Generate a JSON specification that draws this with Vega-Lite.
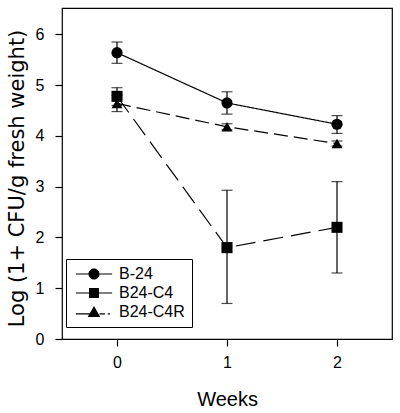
{
  "$schema": "https://vega.github.io/schema/vega-lite/v6.json",
  "width": 330,
  "height": 331,
  "autosize": "none",
  "padding": {"left": 62, "top": 8, "right": 8, "bottom": 74},
  "background": "white",
  "config": {
    "view": {"stroke": "black", "strokeWidth": 1.2},
    "font": "Liberation Sans",
    "axis": {
      "domainColor": "black", "tickColor": "black", "labelColor": "black", "titleColor": "black",
      "grid": false, "tickSize": 7, "labelFontSize": 16, "labelFont": "Liberation Sans",
      "titleFont": "Liberation Sans", "titleFontWeight": "normal", "domainWidth": 1.2, "tickWidth": 1.2
    }
  },
  "data": {
    "values": [
      {"week": 0, "series": "B-24", "mean": 5.64, "lo": 5.43, "hi": 5.85},
      {"week": 1, "series": "B-24", "mean": 4.65, "lo": 4.43, "hi": 4.87},
      {"week": 2, "series": "B-24", "mean": 4.23, "lo": 4.05, "hi": 4.40},
      {"week": 0, "series": "B24-C4", "mean": 4.78, "lo": 4.60, "hi": 4.95},
      {"week": 1, "series": "B24-C4", "mean": 1.80, "lo": 0.70, "hi": 2.93},
      {"week": 2, "series": "B24-C4", "mean": 2.20, "lo": 1.30, "hi": 3.10},
      {"week": 0, "series": "B24-C4R", "mean": 4.64, "lo": 4.48, "hi": 4.80},
      {"week": 1, "series": "B24-C4R", "mean": 4.18, "lo": 4.12, "hi": 4.24},
      {"week": 2, "series": "B24-C4R", "mean": 3.85, "lo": 3.80, "hi": 3.90}
    ]
  },
  "encoding": {
    "x": {
      "field": "week", "type": "quantitative",
      "scale": {"domain": [-0.5, 2.5], "nice": false, "zero": false},
      "axis": {"values": [0, 1, 2], "title": "Weeks", "titleFontSize": 20, "labelPadding": 8, "titlePadding": 19, "domain": false}
    },
    "y": {
      "field": "mean", "type": "quantitative",
      "scale": {"domain": [0, 6.52], "nice": false},
      "axis": {"values": [0, 1, 2, 3, 4, 5, 6], "title": "Log (1+ CFU/g fresh weight)", "titleFont": "DejaVu Sans", "titleFontSize": 21, "titleY": 170, "labelPadding": 11, "titlePadding": 8, "domain": false}
    }
  },
  "resolve": {"scale": {"shape": "independent", "size": "independent"}},
  "layer": [
    {
      "mark": {"type": "line", "color": "black", "strokeWidth": 1.2},
      "encoding": {
        "detail": {"field": "series"},
        "strokeDash": {
          "field": "series", "type": "nominal",
          "scale": {"domain": ["B-24", "B24-C4", "B24-C4R"], "range": [[1, 0], [20, 8], [14, 6]]},
          "legend": null
        }
      }
    },
    {
      "mark": {"type": "errorbar", "color": "black", "thickness": 1.2, "ticks": {"size": 11, "thickness": 1.2, "color": "black"}},
      "encoding": {
        "y": {"field": "lo", "type": "quantitative"},
        "y2": {"field": "hi"},
        "detail": {"field": "series"}
      }
    },
    {
      "mark": {"type": "point", "filled": true, "color": "black", "opacity": 1},
      "encoding": {
        "shape": {
          "field": "series", "type": "nominal",
          "scale": {"domain": ["B-24", "B24-C4", "B24-C4R"], "range": ["circle", "square", "triangle-up"]},
          "legend": null
        },
        "size": {
          "field": "series", "type": "nominal",
          "scale": {"domain": ["B-24", "B24-C4", "B24-C4R"], "range": [125, 120, 170]},
          "legend": null
        }
      }
    },
    {
      "mark": {"type": "point", "filled": true, "fill": "black", "opacity": 0},
      "encoding": {
        "shape": {
          "field": "series", "type": "nominal",
          "scale": {
            "domain": ["B-24", "B24-C4", "B24-C4R"],
            "range": [
              "M-3.3,-0.11L3.3,-0.11L3.3,0.11L-3.3,0.11ZM-1,0A1,1 0 1,1 1,0A1,1 0 1,1 -1,0Z",
              "M-3.3,-0.11L3.3,-0.11L3.3,0.11L-3.3,0.11ZM-0.9,-0.9L0.9,-0.9L0.9,0.9L-0.9,0.9Z",
              "M-3.3,0.24L0,0.24L0,0.46L-3.3,0.46ZM1,0.24L2,0.24L2,0.46L1,0.46ZM2.5,0.24L2.9,0.24L2.9,0.46L2.5,0.46ZM0,-1.1L1.15,0.9L-1.15,0.9Z"
            ]
          },
          "legend": {
            "title": null,
            "orient": "none",
            "legendX": 4,
            "legendY": 251,
            "direction": "vertical",
            "labelFontSize": 16,
            "labelFont": "Liberation Sans",
            "labelColor": "black",
            "symbolSize": 121,
            "symbolOffset": 13,
            "labelOffset": 17,
            "rowPadding": 3,
            "padding": 7,
            "strokeColor": "black",
            "fillColor": "white",
            "symbolStrokeWidth": 0,
            "symbolFillColor": "black",
            "symbolOpacity": 1,
            "encode": {
              "symbols": {"update": {"opacity": {"value": 1}, "fill": {"value": "black"}, "fillOpacity": {"value": 1}, "strokeWidth": {"value": 0}}},
              "legend": {"update": {"strokeWidth": {"value": 1.2}}}
            }
          }
        }
      }
    }
  ]
}
